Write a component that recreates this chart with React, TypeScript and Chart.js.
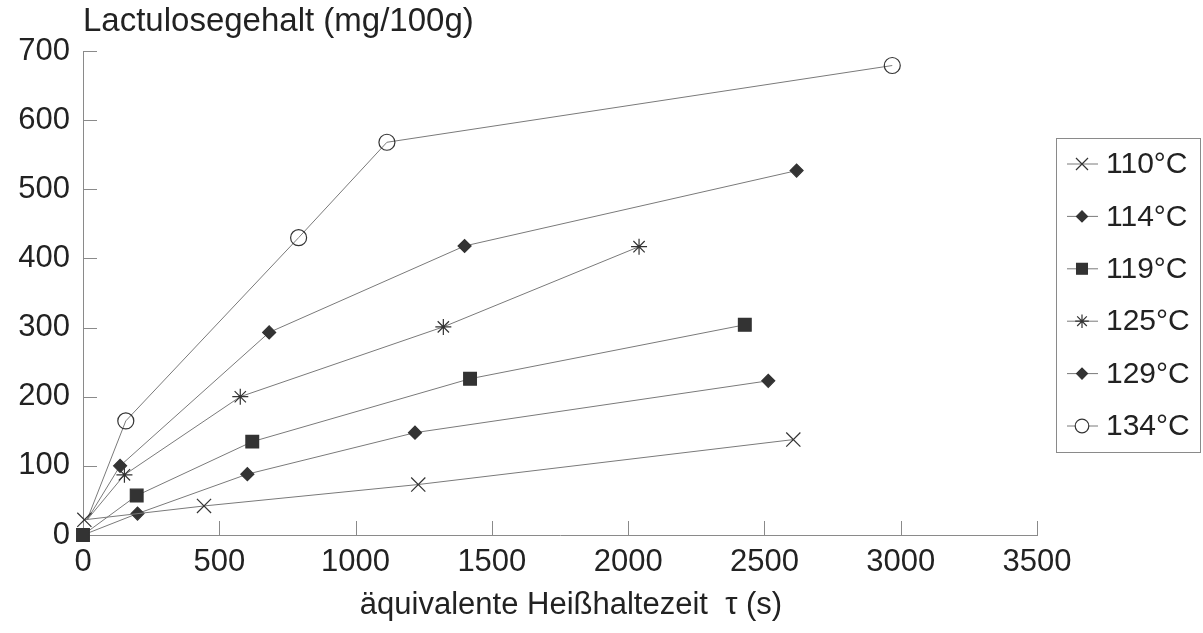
import React, { useEffect, useRef } from 'react';
import { Chart, registerables } from 'chart.js';
import { drawPoint } from 'chart.js/helpers';

Chart.register(...registerables);

// ---- data ----
const seriesLabels = ['110°C', '114°C', '119°C', '125°C', '129°C', '134°C'];

const x110 = [5, 444, 1230, 2606];
const y110 = [22, 42, 73, 138];

const x114 = [15, 136, 683, 1400, 2618];
const y114 = [22, 100, 293, 418, 527];

const x119 = [0, 197, 621, 1420, 2428];
const y119 = [0, 57, 135, 226, 304];

const x125 = [15, 152, 577, 1322, 2040];
const y125 = [22, 87, 200, 301, 417];

const x129 = [0, 200, 603, 1218, 2514];
const y129 = [0, 31, 88, 148, 223];

const x134 = [15, 157, 791, 1115, 2969];
const y134 = [22, 165, 430, 568, 679];

const xTickValues = [0, 500, 1000, 1500, 2000, 2500, 3000, 3500];
const yTickValues = [0, 100, 200, 300, 400, 500, 600, 700];

const yTitle = 'Lactulosegehalt (mg/100g)';
const xTitle = 'äquivalente Heißhaltezeit  τ (s)';

// ---- styles ----
const FONT = '"Liberation Sans", Arial, Helvetica, sans-serif';
const TEXT = '#222';
const AXIS = '#8a8a8a';
const LINE = '#7a7a7a';
const MARK = '#333';

const seriesX = [x110, x114, x119, x125, x129, x134];
const seriesY = [y110, y114, y119, y125, y129, y134];
const pointStyles = ['crossRot', 'rectRot', 'rect', 'star', 'rectRot', 'circle'];
const pointRadii = [10, 6.5, 9, 8, 6.5, 8];
const hideFirst = [false, true, false, true, true, true];

const decorPlugin = {
  id: 'decor',
  afterDraw(chart: any) {
    const ctx = chart.ctx;
    const xs = chart.scales.x;
    const ys = chart.scales.y;
    const area = chart.chartArea;
    ctx.save();
    // inward tick marks
    ctx.strokeStyle = AXIS;
    ctx.lineWidth = 1;
    ys.ticks.forEach((t: any) => {
      if (t.value === 0) return;
      const py = Math.round(ys.getPixelForValue(t.value)) + 0.5;
      ctx.beginPath();
      ctx.moveTo(area.left, py);
      ctx.lineTo(area.left + 14, py);
      ctx.stroke();
    });
    xs.ticks.forEach((t: any) => {
      if (t.value === 0) return;
      const px = Math.round(xs.getPixelForValue(t.value)) + 0.5;
      ctx.beginPath();
      ctx.moveTo(px, area.bottom);
      ctx.lineTo(px, area.bottom - 14);
      ctx.stroke();
    });
    // titles
    ctx.fillStyle = TEXT;
    ctx.font = '33px ' + FONT;
    ctx.textAlign = 'left';
    ctx.textBaseline = 'middle';
    ctx.fillText(yTitle, area.left, 22);
    ctx.font = '31px ' + FONT;
    ctx.textAlign = 'center';
    ctx.fillText(xTitle, 571, 605);

    // legend
    const bx = 1056.5, by = 138.5, bw = 144, bh = 314;
    ctx.strokeStyle = AXIS;
    ctx.lineWidth = 1;
    ctx.strokeRect(bx, by, bw, bh);
    chart.data.datasets.forEach((ds: any, i: number) => {
      const cy = 164 + i * 52.4;
      ctx.strokeStyle = LINE;
      ctx.lineWidth = 1;
      ctx.beginPath();
      ctx.moveTo(1067, cy);
      ctx.lineTo(1098, cy);
      ctx.stroke();
      ctx.strokeStyle = MARK;
      ctx.fillStyle = pointStyles[i] === 'circle' ? '#fff' : MARK;
      ctx.lineWidth = 1.2;
      drawPoint(ctx, { pointStyle: pointStyles[i], radius: pointRadii[i] * 0.85, rotation: 0, borderWidth: 1.2 } as any, 1082, cy);
      ctx.fillStyle = TEXT;
      ctx.font = '30px ' + FONT;
      ctx.textAlign = 'left';
      ctx.textBaseline = 'middle';
      ctx.fillText(ds.label, 1106, cy + 1);
    });
    ctx.restore();
  },
};

export default function App() {
  const ref = useRef<HTMLCanvasElement | null>(null);

  useEffect(() => {
    if (!ref.current) return;
    const datasets = seriesLabels.map((label, i) => ({
      label,
      data: seriesX[i].map((x, j) => ({ x, y: seriesY[i][j] })),
      showLine: true,
      clip: false,
      borderColor: LINE,
      borderWidth: 1,
      pointStyle: pointStyles[i],
      pointRadius: (c: any) => (hideFirst[i] && c.dataIndex === 0 ? 0 : pointRadii[i]),
      pointBorderColor: MARK,
      pointBackgroundColor: pointStyles[i] === 'circle' ? 'rgba(0,0,0,0)' : MARK,
      pointBorderWidth: 1.2,
      order: i === 2 ? -1 : i,
    }));

    const chart = new Chart(ref.current, {
      type: 'scatter',
      data: { datasets },
      options: {
        responsive: false,
        animation: false,
        layout: { padding: { top: 51, right: 166, bottom: 0, left: 0 } },
        plugins: { legend: { display: false }, tooltip: { enabled: false }, title: { display: false } },
        scales: {
          x: {
            type: 'linear',
            min: xTickValues[0],
            max: xTickValues[xTickValues.length - 1],
            afterFit: (s: any) => { s.height = 98; },
            afterBuildTicks: (s: any) => { s.ticks = xTickValues.map((v) => ({ value: v })); },
            ticks: { color: TEXT, font: { size: 31, family: FONT }, padding: 9, maxRotation: 0, callback: (v: any) => String(v) },
            grid: { display: true, drawOnChartArea: false, drawTicks: false },
            border: { display: true, color: AXIS, width: 1 },
          },
          y: {
            type: 'linear',
            min: yTickValues[0],
            max: yTickValues[yTickValues.length - 1],
            afterFit: (s: any) => { s.width = 83; },
            afterBuildTicks: (s: any) => { s.ticks = yTickValues.map((v) => ({ value: v })); },
            ticks: { color: TEXT, font: { size: 31, family: FONT }, padding: 13, callback: (v: any) => String(v) },
            grid: { display: true, drawOnChartArea: false, drawTicks: false },
            border: { display: true, color: AXIS, width: 1 },
          },
        },
      },
      plugins: [decorPlugin],
    });
    return () => chart.destroy();
  }, []);

  return (
    <div style={{ position: 'fixed', left: 0, top: 0, width: 1203, height: 633, background: '#fff' }}>
      <canvas ref={ref} width={1203} height={633} style={{ display: 'block', width: 1203, height: 633 }} />
    </div>
  );
}
